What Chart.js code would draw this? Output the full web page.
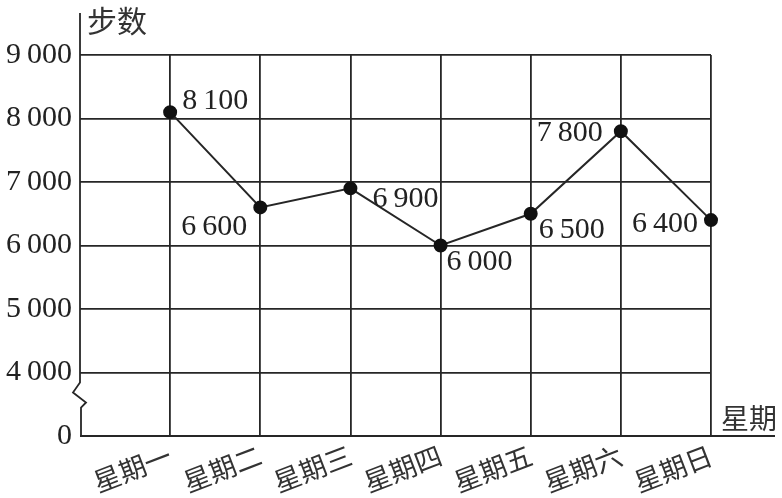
<!DOCTYPE html>
<html>
<head>
<meta charset="utf-8">
<script src="https://cdn.jsdelivr.net/npm/chart.js@4/dist/chart.umd.min.js"></script>
<style>
  html, body { margin: 0; padding: 0; background: #fff; }
  #wrap { width: 782px; height: 498px; }
</style>
</head>
<body>
<div id="wrap"><canvas id="chart"></canvas></div>
<script>
const days = ["星期一", "星期二", "星期三", "星期四", "星期五", "星期六", "星期日"];
const steps = [8100, 6600, 6900, 6000, 6500, 7800, 6400];
const yTicks = [3000, 4000, 5000, 6000, 7000, 8000, 9000]; // 3000 is drawn as the broken "0"

// where each value label sits next to its point
const labelPlace = [
  { dx: 12, dy: -11, align: "left" },
  { dx: -13, dy: 20, align: "right" },
  { dx: 22, dy: 11, align: "left" },
  { dx: 6, dy: 17, align: "left" },
  { dx: 8, dy: 16, align: "left" },
  { dx: -18, dy: 2, align: "right" },
  { dx: -13, dy: 4, align: "right" },
];

const ink = "#262626";
const numFont = '"Liberation Serif", "Times New Roman", serif';
const cjkFont = '"Noto Sans CJK SC", sans-serif';

function fmt(n) {
  if (n < 1000) return String(n);
  return Math.floor(n / 1000) + "\u2009" + String(n % 1000).padStart(3, "0");
}

const axesPlugin = {
  id: "axesPlugin",
  afterDraw(chart) {
    let { ctx, chartArea } = chart;
    let x0 = chartArea.left;
    let yb = chartArea.bottom;
    let y4 = chart.scales.y.getPixelForValue(4000);
    ctx.save();
    ctx.strokeStyle = ink;
    ctx.lineWidth = 1.8;
    ctx.lineJoin = "miter";
    // y axis with the break
    ctx.beginPath();
    ctx.moveTo(x0, 13);
    ctx.lineTo(x0, y4 + 10);
    ctx.lineTo(x0 - 7, y4 + 20);
    ctx.lineTo(x0 + 6, y4 + 30);
    ctx.lineTo(x0 + 1, y4 + 35);
    ctx.lineTo(x0 + 1, yb);
    ctx.stroke();
    // x axis
    ctx.beginPath();
    ctx.moveTo(x0, yb);
    ctx.lineTo(775, yb);
    ctx.stroke();
    // axis titles
    ctx.fillStyle = "#333";
    ctx.textAlign = "left";
    ctx.textBaseline = "middle";
    ctx.font = "30px " + cjkFont;
    ctx.fillText("步数", x0 + 7, 21);
    ctx.font = "28px " + cjkFont;
    ctx.fillText("星期", 721, yb - 18);
    ctx.restore();
  },
};

const valueLabels = {
  id: "valueLabels",
  afterDatasetsDraw(chart) {
    let { ctx } = chart;
    let meta = chart.getDatasetMeta(0);
    ctx.save();
    ctx.fillStyle = "#222";
    ctx.font = "30px " + numFont;
    ctx.textBaseline = "middle";
    meta.data.forEach((pt, i) => {
      let p = labelPlace[i];
      ctx.textAlign = p.align;
      ctx.fillText(fmt(steps[i]), pt.x + p.dx, pt.y + p.dy);
    });
    ctx.restore();
  },
};

new Chart(document.getElementById("chart"), {
  type: "line",
  data: {
    datasets: [
      {
        data: steps.map((s, i) => ({ x: i + 1, y: s })),
        borderColor: ink,
        borderWidth: 2,
        backgroundColor: "#111",
        pointBackgroundColor: "#111",
        pointBorderColor: "#111",
        pointRadius: 6,
        tension: 0,
        clip: false,
      },
    ],
  },
  options: {
    responsive: true,
    maintainAspectRatio: false,
    animation: false,
    events: [],
    layout: {
      padding: { top: 55, right: 71, bottom: 0, left: 0 },
    },
    plugins: {
      legend: { display: false },
      tooltip: { enabled: false },
    },
    scales: {
      x: {
        type: "linear",
        min: 0,
        max: 7,
        afterFit: (scale) => {
          scale.height = 62;
        },
        border: { display: false },
        grid: {
          drawTicks: false,
          lineWidth: 1.8,
          color: (c) => (c.tick && c.tick.value === 0 ? "rgba(0,0,0,0)" : ink),
        },
        ticks: {
          stepSize: 1,
          autoSkip: false,
          minRotation: 21,
          maxRotation: 21,
          padding: 3,
          color: "#333",
          font: { family: cjkFont, size: 27 },
          callback: (v) => days[v - 1] || "",
        },
      },
      y: {
        min: 3000,
        max: 9000,
        afterFit: (scale) => {
          scale.width = 80;
        },
        afterBuildTicks: (scale) => {
          scale.ticks = yTicks.map((v) => ({ value: v }));
        },
        border: { display: false },
        grid: {
          drawTicks: false,
          lineWidth: 1.8,
          color: (c) => (c.tick && c.tick.value === 3000 ? "rgba(0,0,0,0)" : ink),
        },
        ticks: {
          padding: 8,
          color: "#222",
          font: { family: numFont, size: 30 },
          callback: (v) => (v === 3000 ? "0" : fmt(v)),
        },
      },
    },
  },
  plugins: [axesPlugin, valueLabels],
});
</script>
</body>
</html>
